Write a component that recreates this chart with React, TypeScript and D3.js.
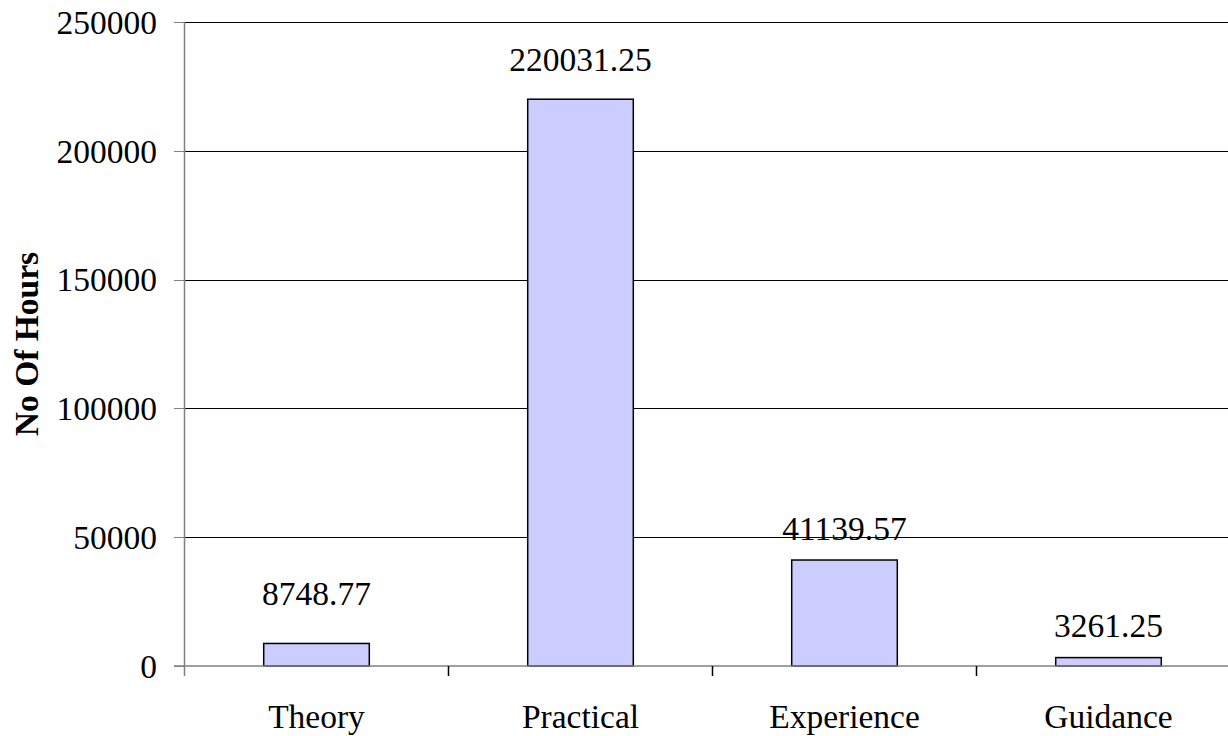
import React from "react";
import * as d3 from "d3";

const categories: string[] = ["Theory", "Practical", "Experience", "Guidance"];
const hours: number[] = [8748.77, 220031.25, 41139.57, 3261.25];
const valueLabels: string[] = ["8748.77", "220031.25", "41139.57", "3261.25"];
const yTicks: number[] = [0, 50000, 100000, 150000, 200000, 250000];
const yTitle = "No Of Hours";

// label gaps above bar tops (px), as positioned in the original
const labelGap: number[] = [38, 28, 20, 21];

export default function App() {
  const W = 1228;
  const H = 736;
  const left = 184.5;
  const right = 1240.5;
  const top = 22;
  const bottom = 666;
  const font = "Liberation Serif, Times New Roman, Times, serif";
  const fs = 33.5;
  const ts: React.CSSProperties = { fontFamily: font, fontSize: fs };

  const x = d3.scaleBand<string>().domain(categories).range([left, right]).paddingInner(0).paddingOuter(0);
  const y = d3.scaleLinear().domain([0, 250000]).range([bottom, top]);
  const bw = x.bandwidth() * 0.4;

  return (
    <svg width={W} height={H} style={{ position: "absolute", left: 0, top: 0, background: "#fff", fontFamily: font }}>
      {yTicks.map((t) => (
        <g key={t}>
          {t !== 0 && (
            <line x1={left} x2={W} y1={Math.round(y(t)) + 0.5} y2={Math.round(y(t)) + 0.5} stroke="#000" strokeWidth={1} />
          )}
          <line x1={174} x2={left} y1={Math.round(y(t)) + 0.5} y2={Math.round(y(t)) + 0.5} stroke="#808080" strokeWidth={1} />
          <text x={157} y={y(t)} dy="0.35em" textAnchor="end" style={ts} fill="#000">
            {t}
          </text>
        </g>
      ))}
      {categories.map((c, i) => {
        const cx = (x(c) as number) + x.bandwidth() / 2;
        const yt = y(hours[i]);
        return (
          <g key={c}>
            <rect x={cx - bw / 2} y={yt} width={bw} height={bottom - yt} fill="#CCCCFF" stroke="#000" strokeWidth={1.5} />
            <text x={cx} y={yt - labelGap[i]} textAnchor="middle" style={ts} fill="#000">
              {valueLabels[i]}
            </text>
            <text x={cx} y={728} textAnchor="middle" style={ts} fill="#000">
              {c}
            </text>
          </g>
        );
      })}
      <line x1={left} x2={left} y1={top} y2={bottom + 10} stroke="#808080" strokeWidth={1.5} />
      <line x1={174} x2={W} y1={bottom} y2={bottom} stroke="#808080" strokeWidth={1.5} />
      {categories.slice(1).map((c) => (
        <line key={c} x1={x(c) as number} x2={x(c) as number} y1={bottom} y2={bottom + 10} stroke="#000" strokeWidth={1.5} />
      ))}
      <text
        transform={`translate(38, 344) rotate(-90)`}
        textAnchor="middle"
        style={{ ...ts, fontWeight: "bold" }}
        fill="#000"
      >
        {yTitle}
      </text>
    </svg>
  );
}
